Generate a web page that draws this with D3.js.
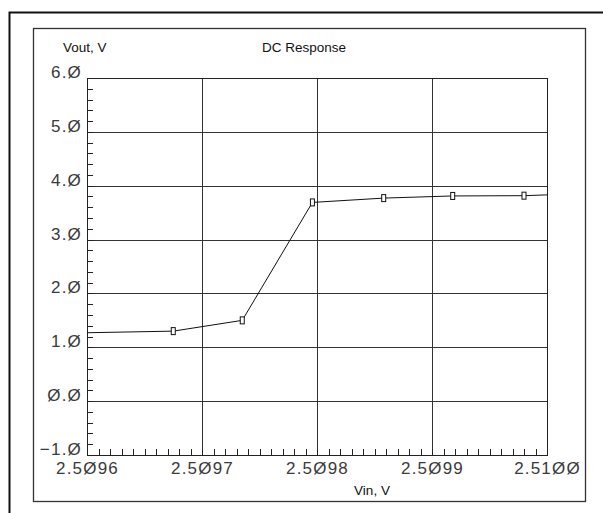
<!DOCTYPE html>
<html>
<head>
<meta charset="utf-8">
<script src="https://cdn.jsdelivr.net/npm/d3@7"></script>
<style>
  body { margin: 0; background: #fff; overflow: hidden; }
  svg { display: block; }
  .tick-label { font-family: "Liberation Sans", Arial, sans-serif; font-size: 17px; letter-spacing: 1.2px; fill: #3a3a3a; }
  .title { font-family: "Liberation Sans", Arial, sans-serif; font-size: 13.5px; fill: #111; }
</style>
</head>
<body>
<div id="chart"></div>
<script>
// sweep data
const vin = [2.5096, 2.509675, 2.509735, 2.509796, 2.509858, 2.509918, 2.50998, 2.5100];
const vout = [1.27, 1.30, 1.50, 3.69, 3.77, 3.81, 3.815, 3.83];
// marker points (the ends are clipped at the plot edges)
const markerIdx = [1, 2, 3, 4, 5, 6];

const xMajor = [2.5096, 2.5097, 2.5098, 2.5099, 2.5100];
const yMajor = [-1, 0, 1, 2, 3, 4, 5, 6];

const W = 603, H = 513;
const plot = { left: 87, top: 78, right: 547, bottom: 455 };

const svg = d3.select('#chart').append('svg')
    .attr('width', W)
    .attr('height', H);

// outer frame (runs off the right and bottom)
svg.append('rect')
    .attr('x', 9.5).attr('y', 12.5)
    .attr('width', 800).attr('height', 700)
    .attr('fill', 'none').attr('stroke', '#111').attr('stroke-width', 2);

// inner frame
svg.append('rect')
    .attr('x', 33.5).attr('y', 28.5)
    .attr('width', 552).attr('height', 473)
    .attr('fill', 'none').attr('stroke', '#333').attr('stroke-width', 1.3);

const x = d3.scaleLinear().domain([2.5096, 2.5100]).range([plot.left, plot.right]);
const y = d3.scaleLinear().domain([-1, 6]).range([plot.bottom, plot.top]);

const pw = plot.right - plot.left;
const ph = plot.bottom - plot.top;
const zero = s => s.replace(/0/g, '\u00D8');

// grid lines
svg.append('g')
    .attr('transform', `translate(${plot.left},0)`)
    .call(d3.axisLeft(y).tickValues(yMajor).tickSize(-pw).tickFormat(''))
    .call(g => g.select('.domain').remove())
    .call(g => g.selectAll('line').attr('stroke', '#333').attr('shape-rendering', 'crispEdges'));

svg.append('g')
    .attr('transform', `translate(0,${plot.bottom})`)
    .call(d3.axisBottom(x).tickValues(xMajor).tickSize(-ph).tickFormat(''))
    .call(g => g.select('.domain').remove())
    .call(g => g.selectAll('line').attr('stroke', '#333').attr('shape-rendering', 'crispEdges'));

// minor ticks
svg.append('g')
    .attr('transform', `translate(${plot.left},0)`)
    .call(d3.axisLeft(y).ticks(35).tickSize(-6).tickFormat(''))
    .call(g => g.select('.domain').remove())
    .call(g => g.selectAll('line').attr('stroke', '#222').attr('shape-rendering', 'crispEdges'));

svg.append('g')
    .attr('transform', `translate(0,${plot.bottom})`)
    .call(d3.axisBottom(x).ticks(40).tickSize(-6).tickFormat(''))
    .call(g => g.select('.domain').remove())
    .call(g => g.selectAll('line').attr('stroke', '#222').attr('shape-rendering', 'crispEdges'));

// plot border
svg.append('rect')
    .attr('x', plot.left).attr('y', plot.top)
    .attr('width', pw).attr('height', ph)
    .attr('fill', 'none').attr('stroke', '#222').attr('shape-rendering', 'crispEdges');

// tick labels
svg.append('g')
    .attr('transform', `translate(${plot.left - 5},0)`)
    .call(d3.axisLeft(y).tickValues(yMajor).tickSize(0).tickPadding(0)
        .tickFormat(d => zero(d3.format('.1f')(d))))
    .call(g => g.select('.domain').remove())
    .call(g => g.selectAll('text')
        .attr('class', 'tick-label')
        .attr('dy', '-0.5'));

svg.append('g')
    .attr('transform', `translate(0,${plot.bottom})`)
    .call(d3.axisBottom(x).tickValues(xMajor).tickSize(0).tickPadding(0)
        .tickFormat(d => zero(d3.format('.4f')(d))))
    .call(g => g.select('.domain').remove())
    .call(g => g.selectAll('text')
        .attr('class', 'tick-label')
        .attr('y', 19)
        .attr('dy', 0));

// titles
svg.append('text').attr('class', 'title')
    .attr('x', 63).attr('y', 52)
    .text('Vout, V');

svg.append('text').attr('class', 'title')
    .attr('x', 304).attr('y', 52)
    .attr('text-anchor', 'middle')
    .text('DC Response');

svg.append('text').attr('class', 'title')
    .attr('x', 372).attr('y', 495)
    .attr('text-anchor', 'middle')
    .text('Vin, V');

// response curve
const line = d3.line()
    .x((d, i) => x(vin[i]))
    .y(d => y(d));

svg.append('path')
    .datum(vout)
    .attr('d', line)
    .attr('fill', 'none')
    .attr('stroke', '#111')
    .attr('stroke-width', 1);

svg.selectAll('.marker')
    .data(markerIdx)
    .enter().append('rect')
    .attr('class', 'marker')
    .attr('x', i => x(vin[i]) - 2)
    .attr('y', i => y(vout[i]) - 3.5)
    .attr('width', 4)
    .attr('height', 7)
    .attr('fill', '#fff')
    .attr('stroke', '#111')
    .attr('stroke-width', 1);
</script>
</body>
</html>
